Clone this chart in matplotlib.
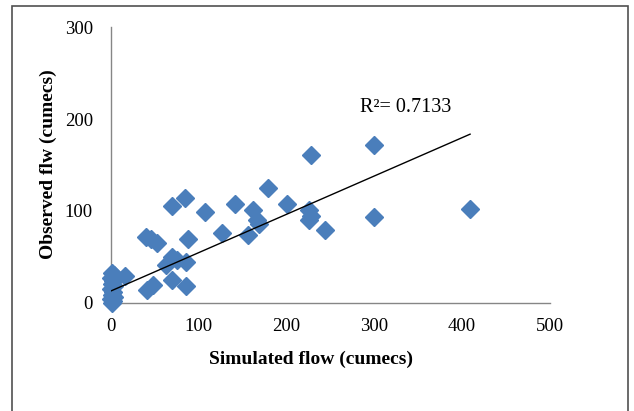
import numpy as np
import matplotlib.pyplot as plt
from matplotlib.patches import Rectangle

# simulated vs observed flow (cumecs)
simulated = [300, 228, 409, 300, 179, 200, 226, 225, 228, 244,
             141, 162, 166, 169, 156, 126, 107, 84, 69, 88,
             40, 46, 52, 69, 63, 75, 86, 69, 86, 41, 48, 16,
             1, 3, 0, 2, 1, 3, 0, 2, 1, 3, 0, 2, 1]
observed = [172, 161, 102, 93, 125, 108, 101, 90, 95, 79,
            108, 101, 90, 86, 74, 76, 99, 114, 105, 70,
            72, 69, 65, 50, 41, 47, 45, 25, 18, 14, 20, 29,
            33, 30, 27, 24, 21, 18, 15, 12, 9, 6, 4, 2, 0]

# linear trendline as shown
trend_slope = 0.417
trend_intercept = 13.0
r2_text = "R²= 0.7133"

serif = ['Liberation Serif', 'DejaVu Serif']

fig = plt.figure(figsize=(6.34, 4.11), dpi=100)
ax = fig.add_axes([0.175, 0.263, 0.6925, 0.671])

ax.plot(simulated, observed, linestyle='none', marker='D', ms=9,
        color='#4A7EBB', markeredgecolor='#4A7EBB', clip_on=False, zorder=3)

tx = np.array([min(simulated), max(simulated)])
ax.plot(tx, trend_intercept + trend_slope * tx, color='black', lw=1.0, zorder=4)

ax.text(284, 213, r2_text, fontsize=14.5, family=serif, va='center', ha='left')

ax.set_xlim(0, 500)
ax.set_ylim(0, 300)
ax.set_xticks([0, 100, 200, 300, 400, 500])
ax.set_yticks([0, 100, 200, 300])
ax.tick_params(length=0, labelsize=13.5)
ax.tick_params(axis='x', pad=11)
ax.tick_params(axis='y', pad=13)
for lab in ax.get_xticklabels() + ax.get_yticklabels():
    lab.set_family(serif)

for s in ['top', 'right']:
    ax.spines[s].set_visible(False)
for s in ['left', 'bottom']:
    ax.spines[s].set_color('#868686')
    ax.spines[s].set_linewidth(1.0)

ax.set_xlabel("Simulated flow (cumecs)", fontsize=14, fontweight='bold',
              family=serif, va='center')
ax.set_ylabel("Observed flw (cumecs)", fontsize=14, fontweight='bold',
              family=serif, va='center')
ax.xaxis.set_label_coords(0.456, -0.203)
ax.yaxis.set_label_coords(-0.1435, 0.503)

# outer chart border (bottom edge cut off in the original)
fig.patches.append(Rectangle((12/634, -0.05), 616/634, 1.05 - 6/411,
                             transform=fig.transFigure, fill=False,
                             edgecolor='#505050', lw=1.2))

fig.savefig('out.png', dpi=100)
